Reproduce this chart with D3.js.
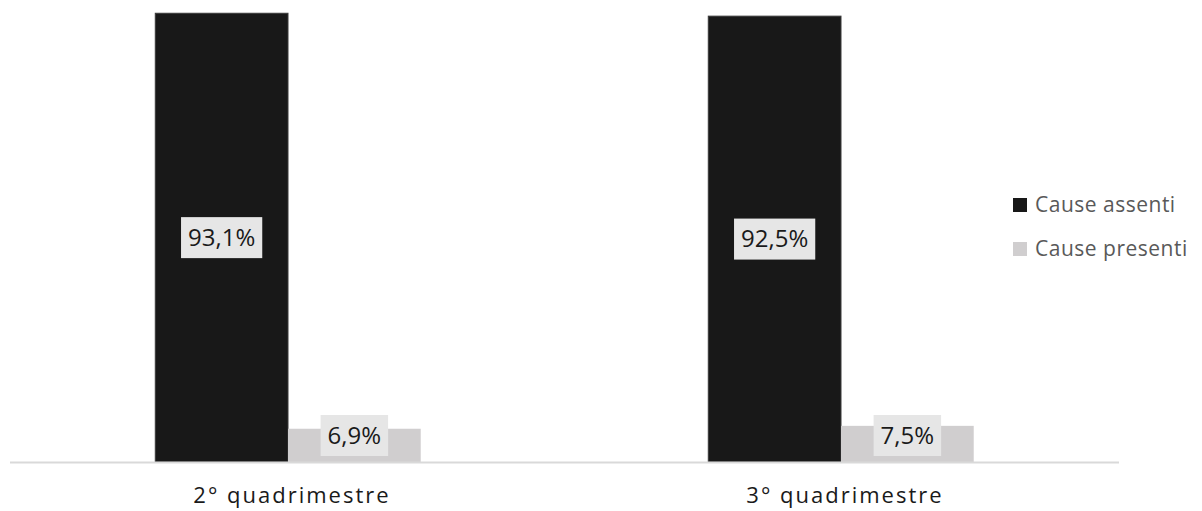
<!DOCTYPE html>
<meta charset="utf-8">
<style>
    body { margin: 0; background: #fff; }
    text { font-family: "Open Sans", sans-serif; }
</style>
<body>
<script src="https://d3js.org/d3.v7.min.js"></script>
<script>
    var categories = ["2° quadrimestre", "3° quadrimestre"];
    var series = ["Cause assenti", "Cause presenti"];
    var assenti = [93.1, 92.5];
    var presenti = [6.9, 7.5];
    var labels = [["93,1%", "6,9%"], ["92,5%", "7,5%"]];

    var width = 1202, height = 511;
    var colors = { "Cause assenti": "#181818", "Cause presenti": "#d0cecf" };

    var svg = d3.select("body").append("svg")
        .attr("width", width)
        .attr("height", height);

    var x0 = d3.scaleBand()
        .domain(categories)
        .range([11.5, 1117.5])
        .paddingInner(0.52)
        .paddingOuter(0.26);

    var x1 = d3.scaleBand()
        .domain(series)
        .range([0, x0.bandwidth()]);

    var y = d3.scaleLinear()
        .domain([0, 100])
        .range([462, -20]);

    var rows = [];
    categories.forEach(function (c, i) {
        rows.push({ cat: c, s: series[0], v: assenti[i], label: labels[i][0] });
        rows.push({ cat: c, s: series[1], v: presenti[i], label: labels[i][1] });
    });

    svg.selectAll(".bar")
        .data(rows)
        .enter().append("rect")
        .attr("class", "bar")
        .attr("x", function (d) { return x0(d.cat) + x1(d.s); })
        .attr("y", function (d) { return y(d.v); })
        .attr("width", x1.bandwidth())
        .attr("height", function (d) { return y(0) - y(d.v); })
        .attr("fill", function (d) { return colors[d.s]; })
        .attr("stroke", function (d) { return d.s == series[0] ? "#3a3a3a" : "none"; })
        .attr("stroke-width", 1);

    // axis line
    svg.append("line")
        .attr("x1", 10).attr("x2", 1119)
        .attr("y1", y(0) + 0.5).attr("y2", y(0) + 0.5)
        .attr("stroke", "#d9d9d9")
        .attr("stroke-width", 2);

    // data labels
    var lab = svg.selectAll(".lab")
        .data(rows)
        .enter().append("g")
        .attr("class", "lab")
        .attr("transform", function (d) {
            var cx = x0(d.cat) + x1(d.s) + x1.bandwidth() / 2;
            var cy = Math.min((y(d.v) + y(0)) / 2, y(0) - 26.5);
            return "translate(" + cx + "," + cy + ")";
        });

    lab.append("text")
        .attr("text-anchor", "middle")
        .attr("dy", "0.35em")
        .style("font-size", "24px")
        .attr("fill", "#1a1a1a")
        .text(function (d) { return d.label; });

    lab.each(function () {
        var g = d3.select(this);
        var bb = g.select("text").node().getBBox();
        g.insert("rect", "text")
            .attr("x", bb.x - 7)
            .attr("y", -20.5)
            .attr("width", bb.width + 14)
            .attr("height", 41)
            .attr("fill", "#e6e6e6");
    });

    // category labels
    svg.selectAll(".cat")
        .data(categories)
        .enter().append("text")
        .attr("class", "cat")
        .attr("x", function (d) { return x0(d) + x0.bandwidth() / 2 + 4; })
        .attr("y", 503)
        .attr("text-anchor", "middle")
        .style("font-size", "22px")
        .style("letter-spacing", "2px")
        .attr("fill", "#1a1a1a")
        .text(function (d) { return d; });

    // legend
    var leg = svg.selectAll(".leg")
        .data(series)
        .enter().append("g")
        .attr("class", "leg")
        .attr("transform", function (d, i) { return "translate(1013," + (198 + i * 44) + ")"; });

    leg.append("rect")
        .attr("width", 14).attr("height", 14)
        .attr("fill", function (d) { return colors[d]; });

    leg.append("text")
        .attr("x", 22)
        .attr("y", 14)
        .style("font-size", "21px")
        .style("letter-spacing", "0.5px")
        .attr("fill", "#595959")
        .text(function (d) { return d; });
</script>
</body>
